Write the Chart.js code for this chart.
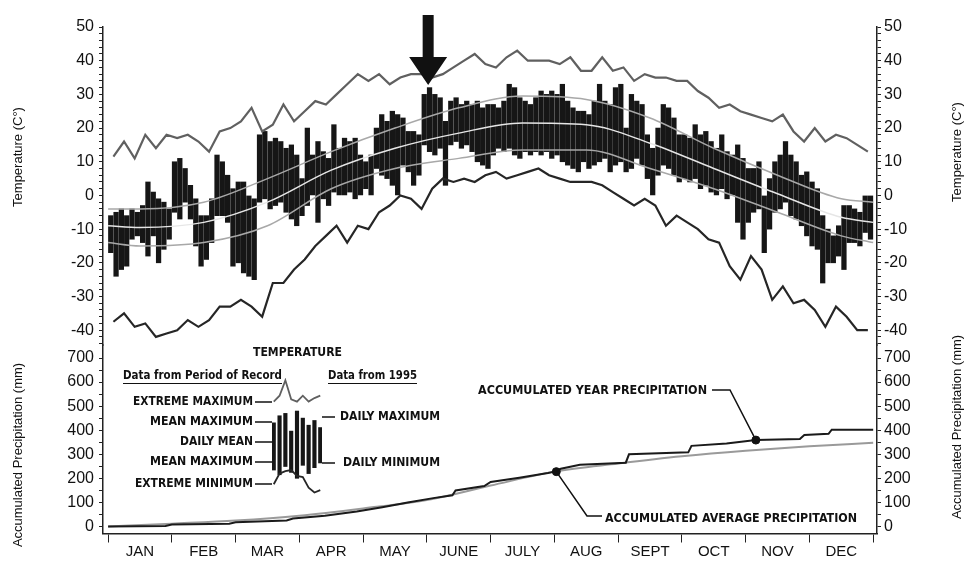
<!doctype html>
<html lang="en">
<head>
<meta charset="utf-8">
<title>Temperatura y precipitación 1995</title>
<script src="https://cdn.jsdelivr.net/npm/chart.js@4.4.1/dist/chart.umd.min.js"></script>
<style>
  body { margin:0; background:#fff; }
  #wrap { position:relative; width:967px; height:561px; }
  #grafica { position:absolute; left:0; top:0; }
  #muestra { position:absolute; left:272px; top:378px; }
</style>
</head>
<body>
<div id="wrap">
  <canvas id="grafica" width="967" height="561"></canvas>
  <canvas id="muestra" width="50" height="118"></canvas>
</div>
<script>

// ---- datos ----
let months = ['JAN','FEB','MAR','APR','MAY','JUNE','JULY','AUG','SEPT','OCT','NOV','DEC'];
let tempTicks = [50,40,30,20,10,0,-10,-20,-30,-40];
let precipTicks = [700,600,500,400,300,200,100,0];

// 1995, maxima / minima diaria (12 por mes)
let dailyMax = [
  -6,-5,-4,-6,-4,-5,-3,4,1,-1,-2,-4,
  10,11,8,3,-1,-6,-6,-1,12,10,6,2,
  4,4,0,-1,18,19,16,17,16,14,15,12,
  5,20,12,16,13,11,21,14,17,16,17,12,
  10,12,20,24,22,25,24,23,19,19,18,30,
  32,30,29,22,28,29,27,28,27,28,26,27,
  27,26,28,33,32,29,28,27,29,31,30,31,
  30,33,28,26,25,25,24,28,33,28,27,32,
  33,20,30,28,27,18,14,20,27,26,23,18,
  18,17,21,18,19,16,14,18,13,12,15,11,
  8,8,10,0,5,10,12,16,12,10,6,7,
  4,2,-6,-10,-12,-9,-3,-3,-4,-5,0,0
];
let dailyMin = [
  -17,-24,-22,-21,-13,-12,-14,-18,-12,-20,-16,-13,
  -5,-7,-2,-7,-15,-21,-19,-14,-6,-6,-8,-21,
  -20,-23,-24,-25,-2,-1,-4,-3,-2,-5,-7,-9,
  -6,-3,0,-8,-1,-3,1,0,0,1,-1,0,
  2,0,8,6,5,3,0,9,7,3,6,15,
  13,12,14,3,15,16,14,15,13,10,9,8,
  12,14,13,14,12,11,13,12,13,12,13,11,
  12,10,9,8,7,10,8,9,10,11,7,9,
  10,7,8,11,9,5,0,6,9,8,6,4,
  5,4,5,2,3,1,0,2,-1,0,-8,-13,
  -8,-5,-4,-17,-10,-5,-4,-2,-6,-7,-9,-12,
  -15,-16,-26,-20,-20,-18,-22,-14,-14,-15,-11,-13
];

// periodo de registro, extremos (6 por mes)
let extremeMax = [
  11.5,16,11,18,14,18, 17,18,16,13,19,20,
  22,26,19,21,27,22, 25,28,27,30,33,36,
  34,36,33,35,36,36, 35,36,38,40,42,39,
  38,41,43,40,40,40, 39,41,37,37,41,37,
  38,34,36,35,35,34, 34,31,29,26,27,25,
  24,23,22,24,19,16, 20,16,18,17,15,13
];
let extremeMin = [
  -37.5,-35,-39,-38,-42,-41, -40,-37,-39,-37,-33,-33,
  -31,-33,-36,-26,-26,-22, -19,-15,-12,-9,-14,-9,
  -10,-5,-3,0,-1,-4, 2,5,4,5,4,6,
  7,5,6,7,8,6, 5,4,4,4,3,1,
  -1,-3,-1,-3,-9,-6, -8,-10,-13,-14,-21,-25,
  -18,-22,-31,-27,-32,-31, -34,-39,-33,-36,-40,-40
];

// medias del periodo de registro
let normalMonths = [0,0.5,1.5,2.5,3.5,4.5,5.5,6.5,7.5,8.5,9.5,10.5,11.5,12];
let meanMax   = [-4,-4,-2,5,13,20,26,29.5,28.5,23,14,6,-1,-2];
let dailyMean = [-9,-9.5,-8,-2,7.5,14,18.5,21.5,21,15.5,8,0.5,-6.5,-8];
let meanMin   = [-14,-15,-14,-9,2,8,11,13.5,13.5,8,2,-5,-12,-14];

// precipitacion acumulada (mm)
let precipYearMonth = [0,0.9,1.0,1.9,2.0,2.8,2.9,3.4,3.9,4.3,4.7,5.1,5.4,5.45,5.9,6.0,6.45,6.9,7.0,7.1,7.4,8.12,8.17,9.1,9.15,9.7,10.16,10.85,10.92,11.3,11.35,12];
let precipYearMm    = [0,2,8,12,18,25,33,45,62,80,100,118,130,150,168,185,203,222,228,240,257,265,300,308,335,345,359,364,380,385,402,402];
let precipAvgMonth  = [0,1,2,3,4,5,6,7,8,9,10,11,12];
let precipAvgMm     = [0,12,25,45,75,110,170,228,262,292,315,333,348];
let markerMonth = [7.03, 10.16];
let markerMm    = [228, 359];

// muestra de la leyenda
let miniExtMax = [80,85,98,82,80,85,80,83,85];
let miniExtMin = [10,19,21,22,17,16,7,3,5];
let miniMax    = [62,68,70,55,72,66,60,64,58];
let miniMin    = [22,18,25,20,15,26,19,24,28];

// ---- construccion ----
const fuente = "'Liberation Sans', Arial, sans-serif";
const narrow = "'Liberation Sans Narrow', 'DejaVu Sans Condensed', 'Liberation Sans', sans-serif";
const pares = (xs, ys) => ys.map((v, i) => ({x: xs[i], y: v}));

let barData = dailyMax.map((v, i) => ({x: (i + 0.5) / 12, y: [dailyMin[i], v]}));
let extMaxData = extremeMax.map((v, i) => ({x: (i + 0.5) / 6, y: v}));
let extMinData = extremeMin.map((v, i) => ({x: (i + 0.5) / 6, y: v}));

function ejeY(pos, stack, weight, min, max, step, labels, tickFrom, tickTo){
  return {
    type: 'linear', position: pos, stack: stack, stackWeight: weight, min: min, max: max,
    grid: {display: true, drawOnChartArea: false, drawTicks: true, tickLength: 4, color: '#222'},
    border: {display: true, color: '#222', width: 1.5},
    afterBuildTicks: s => {
      let t = [];
      for (let v = tickFrom; v <= tickTo; v += step) t.push({value: v});
      s.ticks = t;
    },
    ticks: {
      autoSkip: false, color: '#111', padding: pos == 'left' ? 5 : 3,
      font: {family: fuente, size: 16},
      callback: v => labels.includes(v) ? String(v) : ''
    },
    afterFit: s => { s.width = pos == 'left' ? 103 : 90; }
  };
}

function ajustar(ctx, txt, x, y, w, align){
  let m = ctx.measureText(txt).width;
  ctx.save();
  ctx.translate(x, y);
  ctx.scale(w / m, 1);
  ctx.textAlign = align || 'left';
  ctx.fillText(txt, 0, 0);
  ctx.restore();
}

const adornos = {
  id: 'adornos',
  afterDraw(chart){
    let ctx = chart.ctx;
    let xs = chart.scales.x, ps = chart.scales.prec;
    ctx.save();
    ctx.fillStyle = '#111';
    ctx.strokeStyle = '#111';

    // titulos de ejes
    ctx.font = '13px ' + fuente;
    ctx.textAlign = 'center';
    ctx.textBaseline = 'middle';
    [[18,157,'Temperature (C°)'],[18,455,'Accumulated Precipitation (mm)'],
     [957,152,'Temperature (C°)'],[957,427,'Accumulated Precipitation (mm)']].forEach(t => {
      ctx.save();
      ctx.translate(t[0], t[1]);
      ctx.rotate(-Math.PI / 2);
      ctx.fillText(t[2], 0, 0);
      ctx.restore();
    });

    // flecha
    let ax = xs.getPixelForValue(5.02);
    ctx.beginPath();
    ctx.rect(ax - 5.5, 15, 11, 43);
    ctx.moveTo(ax - 19, 57); ctx.lineTo(ax + 19, 57); ctx.lineTo(ax, 85); ctx.closePath();
    ctx.fill();

    // leyenda de temperatura
    ctx.textAlign = 'left';
    ctx.font = 'bold 13px ' + narrow;
    ajustar(ctx, 'TEMPERATURE', 253, 353, 89);
    ctx.font = 'bold 12px ' + narrow;
    ajustar(ctx, 'Data from Period of Record', 123, 376, 159);
    ajustar(ctx, 'Data from 1995', 328, 376, 89);
    ctx.lineWidth = 1.2;
    ctx.beginPath();
    ctx.moveTo(123, 383.5); ctx.lineTo(282, 383.5);
    ctx.moveTo(328, 383.5); ctx.lineTo(417, 383.5);
    ctx.stroke();

    ctx.font = 'bold 13px ' + narrow;
    let izq = [['EXTREME MAXIMUM',133,402],['MEAN MAXIMUM',150,422],['DAILY MEAN',180,442],
               ['MEAN MAXIMUM',150,462],['EXTREME MINIMUM',135,484]];
    ctx.lineWidth = 1.5;
    izq.forEach(t => {
      ajustar(ctx, t[0], t[1], t[2], 253 - t[1]);
      ctx.beginPath(); ctx.moveTo(255, t[2]); ctx.lineTo(272, t[2]); ctx.stroke();
    });
    [['DAILY MAXIMUM',340,417],['DAILY MINIMUM',343,463]].forEach(t => {
      ajustar(ctx, t[0], t[1], t[2], 440 - t[1]);
      ctx.beginPath(); ctx.moveTo(322, t[2]); ctx.lineTo(335, t[2]); ctx.stroke();
    });

    // anotaciones de precipitacion
    ajustar(ctx, 'ACCUMULATED YEAR PRECIPITATION', 478, 391, 229);
    ajustar(ctx, 'ACCUMULATED AVERAGE PRECIPITATION', 605, 519, 252);
    let yx = xs.getPixelForValue(markerMonth[1]), yy = ps.getPixelForValue(markerMm[1]);
    let vx = xs.getPixelForValue(markerMonth[0]), vy = ps.getPixelForValue(markerMm[0]);
    ctx.lineWidth = 1.5;
    ctx.beginPath();
    ctx.moveTo(712, 390); ctx.lineTo(730, 390); ctx.lineTo(yx, yy);
    ctx.moveTo(vx, vy); ctx.lineTo(587, 516); ctx.lineTo(602, 516);
    ctx.stroke();
    ctx.restore();
  }
};

let canvas = document.getElementById('grafica').getContext('2d');

var chart = new Chart(canvas, {
  type: 'bar',
  data: {
    datasets: [
      {type: 'bar', data: barData, yAxisID: 'temp', backgroundColor: '#161616', barThickness: 4.6, order: 9},
      {type: 'line', data: extMaxData, yAxisID: 'temp', borderColor: '#606060', borderWidth: 2.2, pointRadius: 0, tension: 0, order: 3},
      {type: 'line', data: extMinData, yAxisID: 'temp', borderColor: '#262626', borderWidth: 2.2, pointRadius: 0, tension: 0, order: 3},
      {type: 'line', data: pares(normalMonths, meanMax), yAxisID: 'temp', borderColor: '#a8a8a8', borderWidth: 1.5, pointRadius: 0, cubicInterpolationMode: 'monotone', order: 2},
      {type: 'line', data: pares(normalMonths, dailyMean), yAxisID: 'temp', borderColor: '#e6e6e6', borderWidth: 1.5, pointRadius: 0, cubicInterpolationMode: 'monotone', order: 2},
      {type: 'line', data: pares(normalMonths, meanMin), yAxisID: 'temp', borderColor: '#a8a8a8', borderWidth: 1.5, pointRadius: 0, cubicInterpolationMode: 'monotone', order: 2},
      {type: 'line', data: pares(precipAvgMonth, precipAvgMm), yAxisID: 'prec', borderColor: '#9a9a9a', borderWidth: 2, pointRadius: 0, cubicInterpolationMode: 'monotone', order: 4},
      {type: 'line', data: pares(precipYearMonth, precipYearMm), yAxisID: 'prec', borderColor: '#1a1a1a', borderWidth: 2, pointRadius: 0, tension: 0, order: 3},
      {type: 'scatter', data: pares(markerMonth, markerMm), yAxisID: 'prec', backgroundColor: '#111', borderColor: '#111', pointRadius: 4, order: 1}
    ]
  },
  options: {
    responsive: false,
    animation: false,
    layout: {padding: {top: 27, bottom: 0, left: 0, right: 0}},
    plugins: {legend: {display: false}, tooltip: {enabled: false}},
    scales: {
      x: {
        type: 'linear', min: -0.08, max: 12.06, offset: false,
        grid: {display: true, offset: false, drawOnChartArea: false, drawTicks: true, tickLength: 9,
               color: c => Number.isInteger(c.tick.value) ? '#222' : 'rgba(0,0,0,0)'},
        border: {display: true, color: '#222', width: 1.5},
        afterBuildTicks: s => {
          let t = [];
          for (let v = 0; v <= 12; v += 0.5) t.push({value: v});
          s.ticks = t;
        },
        ticks: {
          autoSkip: false, maxRotation: 0, minRotation: 0, padding: 0, color: '#111',
          font: {family: fuente, size: 15},
          callback: v => Number.isInteger(v) ? '' : months[Math.floor(v)]
        },
        afterFit: s => { s.height = 27.5; }
      },
      // en la pila izquierda el ultimo definido queda arriba
      prec:  ejeY('left',  'izq', 188.5, -29, 754, 50, precipTicks, 0, 700),
      temp:  ejeY('left',  'izq', 318, -44.4, 50, 2, tempTicks, -44, 50),
      tempR: ejeY('right', 'der', 318, -44.4, 50, 2, tempTicks, -44, 50),
      precR: ejeY('right', 'der', 188.5, -29, 754, 50, precipTicks, 0, 700)
    }
  },
  plugins: [adornos]
});

// muestra pequena de la leyenda
let muestra = document.getElementById('muestra').getContext('2d');
let mx = miniMax.map((v, i) => i);
new Chart(muestra, {
  type: 'bar',
  data: {
    datasets: [
      {type: 'bar', data: miniMax.map((v, i) => ({x: mx[i], y: [miniMin[i], v]})), backgroundColor: '#161616', barThickness: 3.5, order: 9},
      {type: 'line', data: pares(mx, miniExtMax), borderColor: '#606060', borderWidth: 1.8, pointRadius: 0, order: 3},
      {type: 'line', data: pares(mx, miniExtMin), borderColor: '#262626', borderWidth: 1.8, pointRadius: 0, order: 3}
    ]
  },
  options: {
    responsive: false, animation: false,
    layout: {padding: 0},
    plugins: {legend: {display: false}, tooltip: {enabled: false}},
    scales: {
      x: {type: 'linear', min: -0.3, max: 8.3, display: false, offset: false},
      y: {min: 0, max: 100, display: false}
    }
  }
});

</script>
</body>
</html>
